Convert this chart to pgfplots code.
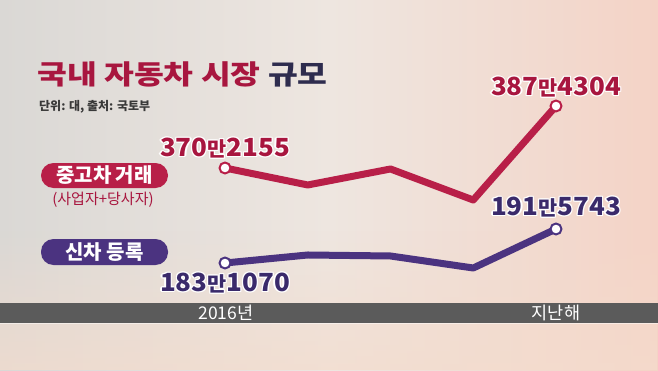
\documentclass[border=0pt]{standalone}
\usepackage{pgfplots}
\pgfplotsset{compat=1.18}
\usepackage{fontspec}
\usetikzlibrary{fadings}
\setmainfont{Noto Sans CJK KR}
\definecolor{bgL}{HTML}{DAD8D5}
\definecolor{bgM}{HTML}{EEE6E0}
\definecolor{bgR}{HTML}{F4D3C6}
\definecolor{peach}{HTML}{F4DCCD}
\definecolor{crim}{HTML}{B81F48}
\definecolor{crimT}{HTML}{A8163F}
\definecolor{purp}{HTML}{4B3380}
\definecolor{purpT}{HTML}{3A2A6B}
\definecolor{navy}{HTML}{2E2C4E}
\definecolor{barg}{HTML}{5B5B5B}
\newcommand{\val}[2]{{\fontsize{25}{25}\selectfont #1}{\fontsize{20}{20}\selectfont 만}{\fontsize{25}{25}\selectfont #2}}
\newcommand{\vlabel}[4]{%
  \foreach \dx/\dy in {1.3/0,-1.3/0,0/1.3,0/-1.3,0.9/0.9,0.9/-0.9,-0.9/0.9,-0.9/-0.9}{
    \node[text=white,font=\bfseries,inner sep=0,xscale=1.04,transform shape] at ([shift={(\dx pt,\dy pt)}]#1) {\val{#3}{#4}};}
  \node[text=#2,font=\bfseries,inner sep=0,xscale=1.04,transform shape] at (#1) {\val{#3}{#4}};}
\begin{document}
\begin{tikzpicture}[x=1pt,y=1pt]
\shade[left color=bgL, right color=bgR, middle color=bgM] (0,0) rectangle (658,370);
\fill[peach, path fading=north, opacity=0.7] (0,0) rectangle (658,140);
% gray bar
\fill[barg] (0,47.5) rectangle (658,67.5);
\fill[white,opacity=0.5] (0,46) rectangle (658,47.5);
\node[text=white,font=\fontsize{17.5}{17.5}\selectfont] at (226,57.5) {2016년};
\node[text=white,font=\fontsize{17.5}{17.5}\selectfont] at (556,57.5) {지난해};
% title
\node[anchor=west,inner sep=0,font=\bfseries\fontsize{27}{27}\selectfont,xscale=1.2,transform shape] at (37,296) {\textcolor{crimT}{국내 자동차 시장} \textcolor{navy}{규모}};
\node[anchor=west,inner sep=0,font=\bfseries\fontsize{12}{12}\selectfont,text=black!78] at (39,263) {단위: 대, 출처: 국토부};
% pills
\fill[crim, rounded corners=12.5pt] (41,182) rectangle (168,207);
\node[text=white,font=\bfseries\fontsize{20}{20}\selectfont] at (104.5,194.5) {중고차 거래};
\node[text=crimT,font=\fontsize{15}{15}\selectfont] at (103,170) {(사업자+당사자)};
\fill[purp, rounded corners=12.5pt] (41,105) rectangle (168,131);
\node[text=white,font=\bfseries\fontsize{20}{20}\selectfont] at (104.5,118) {신차 등록};
% axes
\begin{axis}[at={(0,0)},anchor=south west,width=658pt,height=370pt,scale only axis,hide axis,clip=false,
  xmin=-2.7190,xmax=5.2326,ymin=314.13,ymax=416.86]
\addplot[crim,line width=7pt,line join=round,line cap=round,
  mark=*,mark options={fill=white,draw=crim,line width=2pt},mark size=5.5pt,mark indices={1,5}]
  coordinates {(0,370.2155) (1,365.50) (2,369.94) (3,361.33) (4,387.4304)};
\end{axis}
\begin{axis}[at={(0,0)},anchor=south west,width=658pt,height=370pt,scale only axis,hide axis,clip=false,
  xmin=-2.7190,xmax=5.2326,ymin=156.46,ymax=248.60]
\addplot[purp,line width=7pt,line join=round,line cap=round,
  mark=*,mark options={fill=white,draw=purp,line width=2pt},mark size=5.5pt,mark indices={1,5}]
  coordinates {(0,183.1070) (1,185.10) (2,184.85) (3,181.86) (4,191.5743)};
\end{axis}
% value labels
\vlabel{225,222}{crimT}{370}{2155}
\vlabel{556,283}{crimT}{387}{4304}
\vlabel{225,87}{purpT}{183}{1070}
\vlabel{556,163}{purpT}{191}{5743}
\pgfresetboundingbox
\useasboundingbox (0,0) rectangle (658,370);
\end{tikzpicture}
\end{document}
